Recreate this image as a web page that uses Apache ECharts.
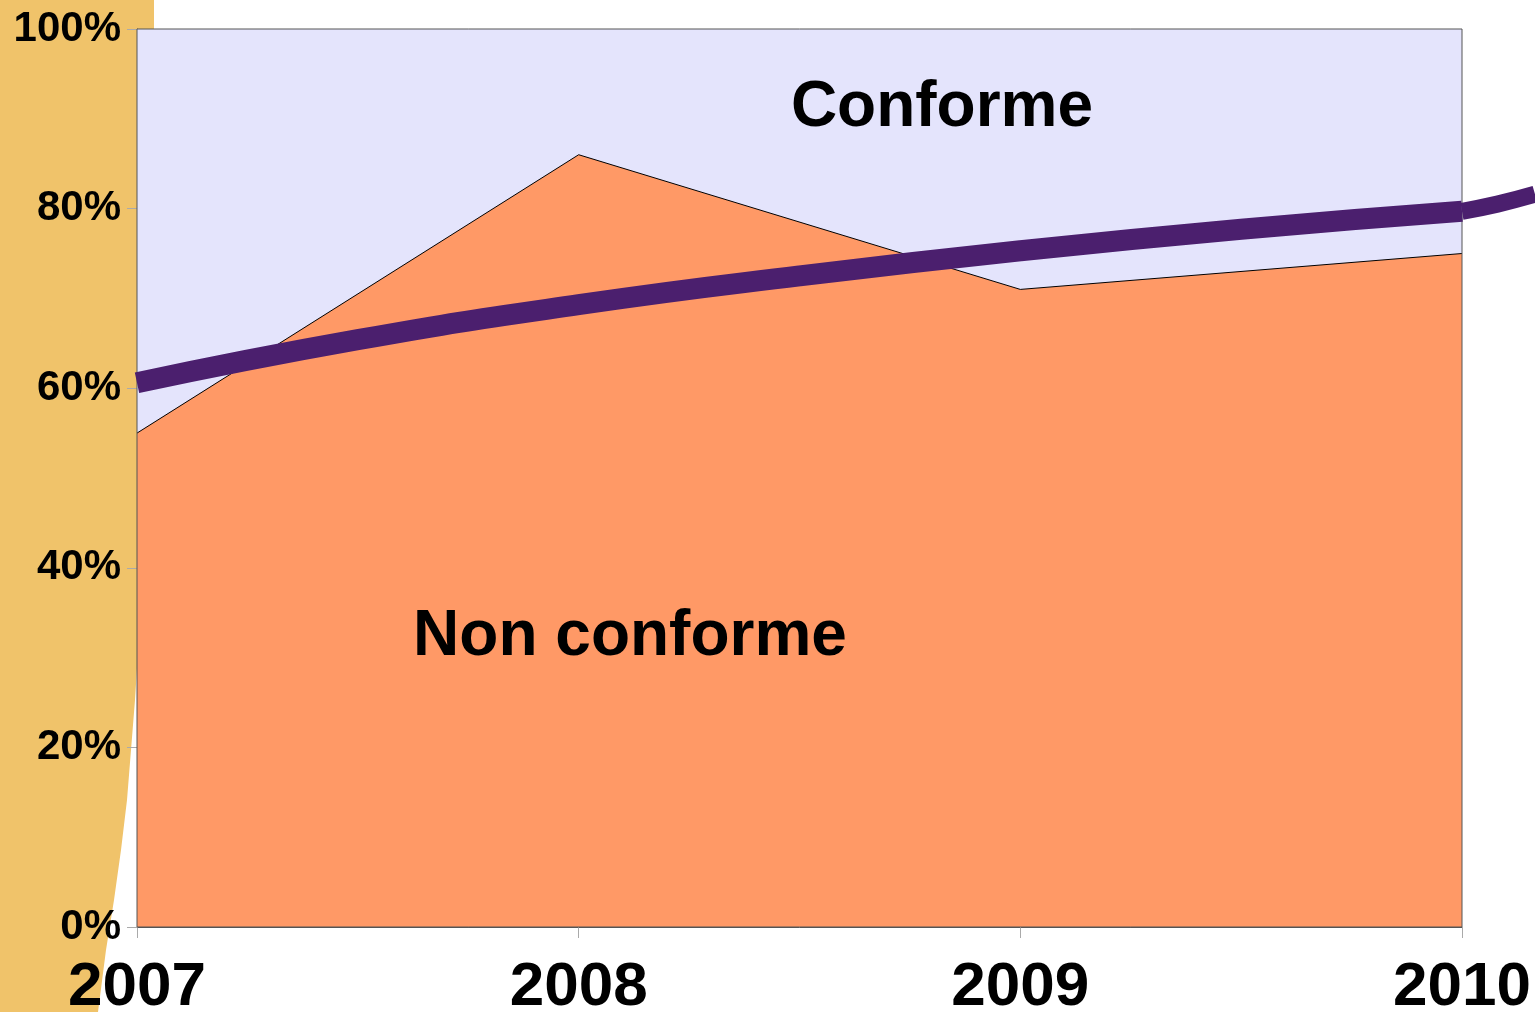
<!DOCTYPE html>
<html>
<head>
<meta charset="utf-8">
<script src="https://cdn.jsdelivr.net/npm/echarts@6/dist/echarts.min.js"></script>
<style>
  html, body { margin: 0; padding: 0; background: #fff; }
  #chart { width: 1535px; height: 1012px; }
</style>
</head>
<body>
<div id="chart"></div>
<script>
// années
var years = [2007, 2008, 2009, 2010];
// part non conforme (%)
var nonConforme = [55, 86, 71, 75];
// part conforme (%) = reste jusqu'à 100
var conforme = [45, 14, 29, 25];
// tendance : [année, %]
var trendX = [2007, 2007.5, 2008, 2008.5, 2009, 2009.5, 2010];
var trendY = [60.6, 65.4, 69.3, 72.5, 75.3, 77.7, 79.7];
// prolongement de la tendance hors du graphique
var trendExtX = [2010, 2010.08, 2010.165];
var trendExtY = [79.7, 80.5, 81.6];
var yTicks = [0, 20, 40, 60, 80, 100];

function pairs(xs, ys) {
  return xs.map(function (x, i) { return [x, ys[i]]; });
}

// haut de la pile (non conforme + conforme)
var conformeTop = nonConforme.map(function (v, i) { return v + conforme[i]; });

var chart = echarts.init(document.getElementById("chart"));

var option = {
  animation: false,
  backgroundColor: "#ffffff",
  textStyle: { fontFamily: "Liberation Sans, Arial, sans-serif" },
  grid: [
    {
      left: 137,
      right: 73,
      top: 29,
      bottom: 85,
      outerBoundsMode: "none",
      show: true,
      borderColor: "#555555",
      borderWidth: 1,
      backgroundColor: "transparent",
      z: 5
    },
    { left: 1462, right: 0, top: 29, bottom: 85, outerBoundsMode: "none" }
  ],
  // fond décoratif à gauche + étiquettes
  graphic: [
    {
      type: "polygon",
      z: -10,
      shape: {
        points: [[0, 0], [154, 0], [154, 28], [150, 100], [146, 400], [140, 600],
          [137, 668], [135, 700], [131, 750], [127, 800], [121, 850],
          [114, 900], [106, 950], [98, 1012], [0, 1012]]
      },
      style: { fill: "#F0C36A" }
    },
    {
      type: "text",
      z: 50,
      style: {
        text: "Conforme",
        x: 942,
        y: 108,
        align: "center",
        verticalAlign: "middle",
        font: "bold 64px 'Liberation Sans', Arial, sans-serif",
        fill: "#000"
      }
    },
    {
      type: "text",
      z: 50,
      style: {
        text: "Non conforme",
        x: 630,
        y: 637,
        align: "center",
        verticalAlign: "middle",
        font: "bold 64px 'Liberation Sans', Arial, sans-serif",
        fill: "#000"
      }
    }
  ],
  xAxis: [
    {
      type: "value",
      gridIndex: 0,
      min: 2007,
      max: 2010,
      interval: 1,
      splitLine: { show: false },
      axisLine: { show: true, lineStyle: { color: "#555555" } },
      axisTick: { show: true, length: 11, lineStyle: { color: "#aaaaaa" } },
      axisLabel: {
        color: "#000",
        fontSize: 62,
        fontWeight: "bold",
        margin: 30,
        formatter: function (v) { return String(v); }
      }
    },
    { type: "value", gridIndex: 1, min: 2010, max: 2010.165, show: false }
  ],
  yAxis: [
    {
      type: "value",
      gridIndex: 0,
      min: 0,
      max: 100,
      interval: 20,
      splitLine: { show: false },
      axisLine: { show: true, lineStyle: { color: "#555555" } },
      axisTick: { show: true, length: 10, lineStyle: { color: "#aaaaaa" } },
      axisLabel: {
        color: "#000",
        fontSize: 42,
        fontWeight: "bold",
        margin: 16,
        formatter: function (v) { return yTicks.indexOf(v) >= 0 ? v + "%" : ""; }
      }
    },
    { type: "value", gridIndex: 1, min: 0, max: 100, show: false }
  ],
  series: [
    {
      name: "Conforme",
      type: "line",
      data: pairs(years, conformeTop),
      symbol: "none",
      lineStyle: { width: 0 },
      areaStyle: { color: "#E4E4FC", opacity: 1 },
      z: 1
    },
    {
      name: "Non conforme",
      type: "line",
      data: pairs(years, nonConforme),
      symbol: "none",
      lineStyle: { color: "#000", width: 1 },
      areaStyle: { color: "#FF9966", opacity: 1 },
      z: 2
    },
    {
      name: "Tendance",
      type: "line",
      data: pairs(trendX, trendY),
      smooth: true,
      symbol: "none",
      lineStyle: { color: "#4B1F6E", width: 21, cap: "butt" },
      z: 10
    },
    {
      name: "Tendance (suite)",
      type: "line",
      xAxisIndex: 1,
      yAxisIndex: 1,
      data: pairs(trendExtX, trendExtY),
      smooth: true,
      symbol: "none",
      clip: false,
      lineStyle: { color: "#4B1F6E", width: 17, cap: "butt" },
      z: 10
    }
  ]
};

chart.setOption(option);
</script>
</body>
</html>
